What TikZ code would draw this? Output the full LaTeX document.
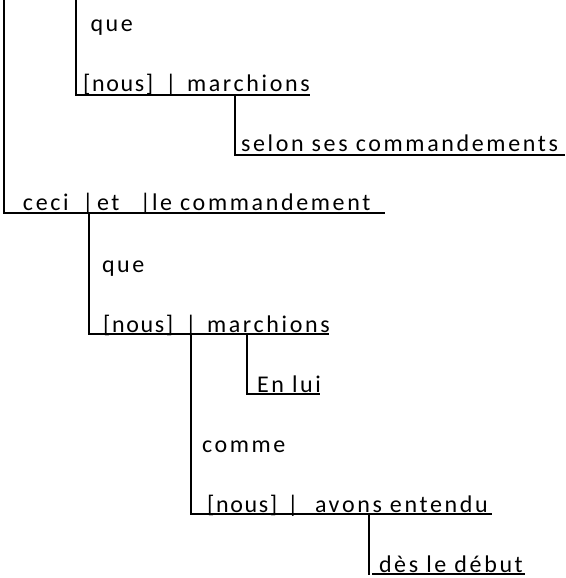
\documentclass[tikz,border=0pt]{standalone}
\usepackage{fontspec}
\setmainfont{Carlito}[LetterSpace=11]
\begin{document}
\begin{tikzpicture}[x=1pt,y=-1pt,
  rule/.style={line width=1.8pt, black},
  word/.style={anchor=base west, inner sep=0pt, outer sep=0pt, font=\fontsize{24}{28}\selectfont},
  tight/.style={word, font=\fontsize{24}{28}\selectfont\addfontfeature{LetterSpace=7}},
  bar/.style={anchor=base, inner sep=0pt, outer sep=0pt, font=\fontsize{24}{28}\selectfont\addfontfeature{LetterSpace=0}}]
\useasboundingbox (0,0) rectangle (565,578);
% text
\node[word] (que1) at (90.5,32) {que};
\node[tight] (nous1) at (83,92) {[nous]};
\node[bar] (bar1) at (171,92) {|};
\node[word] (march1) at (187,92) {marchions};
\node[word] (selon) at (241,151) {selon ses commandements};
\node[word] (ceci) at (23,210) {ceci};
\node[bar] (bar2) at (88,210) {|};
\node[word] (et) at (97,210) {et};
\node[bar] (bar3) at (145.5,210) {|};
\node[word] (comm) at (152,210) {le commandement};
\node[word] (que2) at (102,272) {que};
\node[tight] (nous2) at (103,332) {[nous]};
\node[bar] (bar4) at (191,332) {|};
\node[word] (march2) at (207,332) {marchions};
\node[word] (enlui) at (257,392) {En lui};
\node[word] (comme) at (202,452) {comme};
\node[tight] (nous3) at (207,512) {[nous]};
\node[bar] (bar5) at (293,512) {|};
\node[word] (avons) at (315,512) {avons entendu};
\node[word] (des) at (379,572) {dès le début};
% line points
\coordinate (a1) at (4,0);   \coordinate (a2) at (4,213);   \coordinate (a3) at (385,213);
\coordinate (b1) at (76,0);  \coordinate (b2) at (76,95);   \coordinate (b3) at (310,95);
\coordinate (c1) at (235,95); \coordinate (c2) at (235,155); \coordinate (c3) at (565,155);
\coordinate (d1) at (89,213); \coordinate (d2) at (89,334);  \coordinate (d3) at (329,334);
\coordinate (e1) at (247,334); \coordinate (e2) at (247,394); \coordinate (e3) at (320,394);
\coordinate (f1) at (191,334); \coordinate (f2) at (191,514); \coordinate (f3) at (492,514);
\coordinate (g1) at (369,514); \coordinate (g2) at (369,575);
\coordinate (g3) at (372,574); \coordinate (g4) at (525,574);
\draw[rule] (a1) -- (a2) -- (a3);
\draw[rule] (b1) -- (b2) -- (b3);
\draw[rule] (c1) -- (c2) -- (c3);
\draw[rule] (d1) -- (d2) -- (d3);
\draw[rule] (e1) -- (e2) -- (e3);
\draw[rule] (f1) -- (f2) -- (f3);
\draw[rule] (g1) -- (g2);
\draw[rule] (g3) -- (g4);
\end{tikzpicture}
\end{document}
